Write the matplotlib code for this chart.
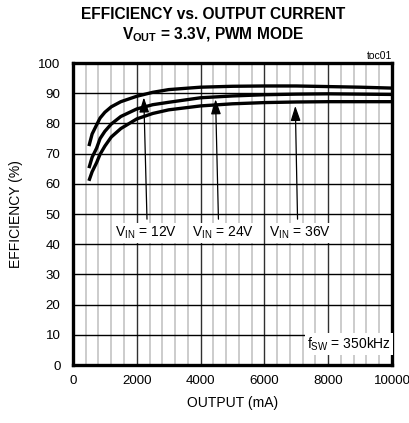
import matplotlib as mpl
mpl.use('Agg')
import matplotlib.pyplot as plt
from matplotlib.ticker import MultipleLocator

mpl.rcParams['font.family'] = ['Liberation Sans Narrow', 'Liberation Sans', 'DejaVu Sans']
mpl.rcParams['mathtext.default'] = 'regular'

# data
current_ma = [500, 600, 740, 850, 1000, 1200, 1500, 2000, 2500, 3000, 4000, 5000, 6000, 7000, 8000, 9000, 10000]
eff_12v = [72.5, 76.5, 79.5, 81.8, 83.7, 85.5, 87.2, 89.0, 90.3, 91.2, 92.0, 92.3, 92.4, 92.4, 92.2, 92.0, 91.7]
eff_24v = [65.2, 68.8, 71.8, 75.0, 77.4, 79.8, 82.3, 84.8, 86.2, 87.0, 88.5, 89.1, 89.5, 89.7, 89.8, 89.7, 89.6]
eff_36v = [61.0, 64.0, 67.0, 69.8, 72.5, 75.5, 78.3, 81.5, 83.3, 84.5, 85.8, 86.5, 86.9, 87.1, 87.2, 87.2, 87.2]

labels = ['V$_{IN}$ = 12V', 'V$_{IN}$ = 24V', 'V$_{IN}$ = 36V']
label_x = [2280, 4700, 7110]
arrow_tail = [(2320, 48.3), (4560, 48.3), (7040, 48.3)]
arrow_head = [(2220, 88.6), (4470, 88.0), (6970, 85.8)]

fig = plt.figure(figsize=(4.10, 4.23), dpi=100)
ax = fig.add_axes([0.178, 0.137, 0.778, 0.714])

ax.set_xlim(0, 10000)
ax.set_ylim(0, 100)
ax.xaxis.set_major_locator(MultipleLocator(2000))
ax.xaxis.set_minor_locator(MultipleLocator(400))
ax.yaxis.set_major_locator(MultipleLocator(10))

ax.grid(which='minor', axis='x', color='#c8c8c8', lw=1.3, zorder=0)
ax.grid(which='major', axis='x', color='#303030', lw=1.0, zorder=0)
ax.grid(which='major', axis='y', color='black', lw=1.0, zorder=0)
ax.set_axisbelow(True)

for y in (eff_12v, eff_24v, eff_36v):
    ax.plot(current_ma, y, color='black', lw=2.4, solid_capstyle='butt', zorder=3)

for lab, lx, t, h in zip(labels, label_x, arrow_tail, arrow_head):
    ax.annotate('', xy=h, xytext=t,
                arrowprops=dict(arrowstyle='-|>,head_length=0.9,head_width=0.3',
                                color='black', lw=0.9, shrinkA=0, shrinkB=0,
                                mutation_scale=10), zorder=4)
    ax.text(lx, 43.7, lab, ha='center', va='center', fontsize=10, zorder=5,
            bbox=dict(facecolor='white', edgecolor='none', pad=1.5))

ax.text(8650, 7, 'f$_{SW}$ = 350kHz', ha='center', va='center', fontsize=10, zorder=5,
        bbox=dict(facecolor='white', edgecolor='none', pad=1.5))

for s in ax.spines.values():
    s.set_linewidth(2.4)
ax.tick_params(which='both', length=0, labelsize=9.6)
ax.tick_params(axis='x', pad=7)
ax.tick_params(axis='y', pad=9)

ax.set_xlabel('OUTPUT (mA)', fontsize=10, labelpad=7)
ax.set_ylabel('EFFICIENCY (%)', fontsize=10, labelpad=11)

fig.text(0.5 + 0.02, 0.965, 'EFFICIENCY vs. OUTPUT CURRENT', ha='center', va='center',
         fontsize=11.2, fontweight='bold')
fig.text(0.5 + 0.02, 0.918, 'V$_{OUT}$ = 3.3V, PWM MODE', ha='center', va='center',
         fontsize=11.2, fontweight='bold')
ax.text(1.0, 1.008, 'toc01', transform=ax.transAxes, ha='right', va='bottom',
        fontsize=7.5, family='Liberation Sans')

fig.savefig('out.png', dpi=100)
